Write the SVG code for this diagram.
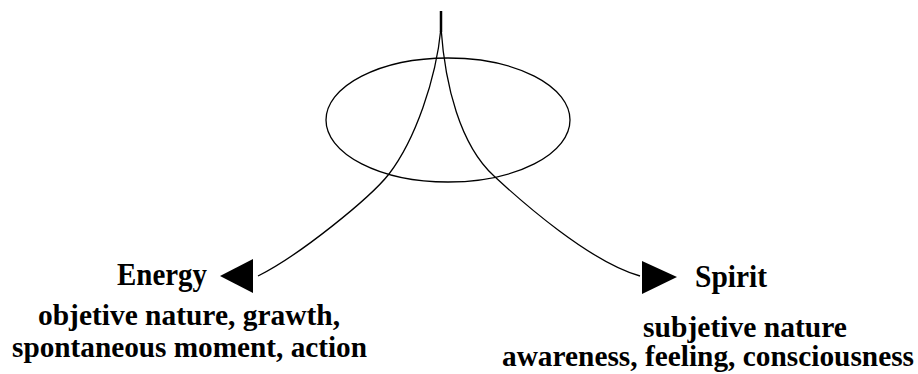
<svg xmlns="http://www.w3.org/2000/svg" width="918" height="374" viewBox="0 0 918 374">
<style>
.ln{fill:none;stroke:#000;stroke-width:1.3}
text{font-family:'Liberation Serif','DejaVu Serif','Times New Roman',serif;font-weight:bold;fill:#000}
.big{font-size:32px}
.sm{font-size:29px}
.ah{fill:#000}
</style>
<rect width="918" height="374" fill="#fff"/>
<g id="ring"><ellipse class="ln" cx="448" cy="120" rx="122" ry="62"/></g>
<g id="connectors">
<line x1="441" y1="11" x2="441" y2="32" stroke="#000" stroke-width="2.5"/>
<path class="ln" d="M441,28 C436,80 415,140 389,174 C370,198 300,255 258,276"/>
<path class="ln" d="M441,28 C445,85 460,145 494,176 C522,202 590,262 640,276"/>
<polygon class="ah" points="220,276 253,259 253,293"/>
<polygon class="ah" points="677,277 642,261 642,294"/>
</g>
<g id="energy">
<text class="big" x="117" y="285" textLength="90" lengthAdjust="spacingAndGlyphs">Energy</text>
<text class="sm" x="38" y="325" textLength="302" lengthAdjust="spacingAndGlyphs">objetive nature, grawth,</text>
<text class="sm" x="12" y="357" textLength="355" lengthAdjust="spacingAndGlyphs">spontaneous moment, action</text>
</g>
<g id="spirit">
<text class="big" x="695" y="287" textLength="72" lengthAdjust="spacingAndGlyphs">Spirit</text>
<text class="sm" x="643" y="337" textLength="204" lengthAdjust="spacingAndGlyphs">subjetive nature</text>
<text class="sm" x="502" y="366" textLength="412" lengthAdjust="spacingAndGlyphs">awareness, feeling, consciousness</text>
</g>
</svg>
